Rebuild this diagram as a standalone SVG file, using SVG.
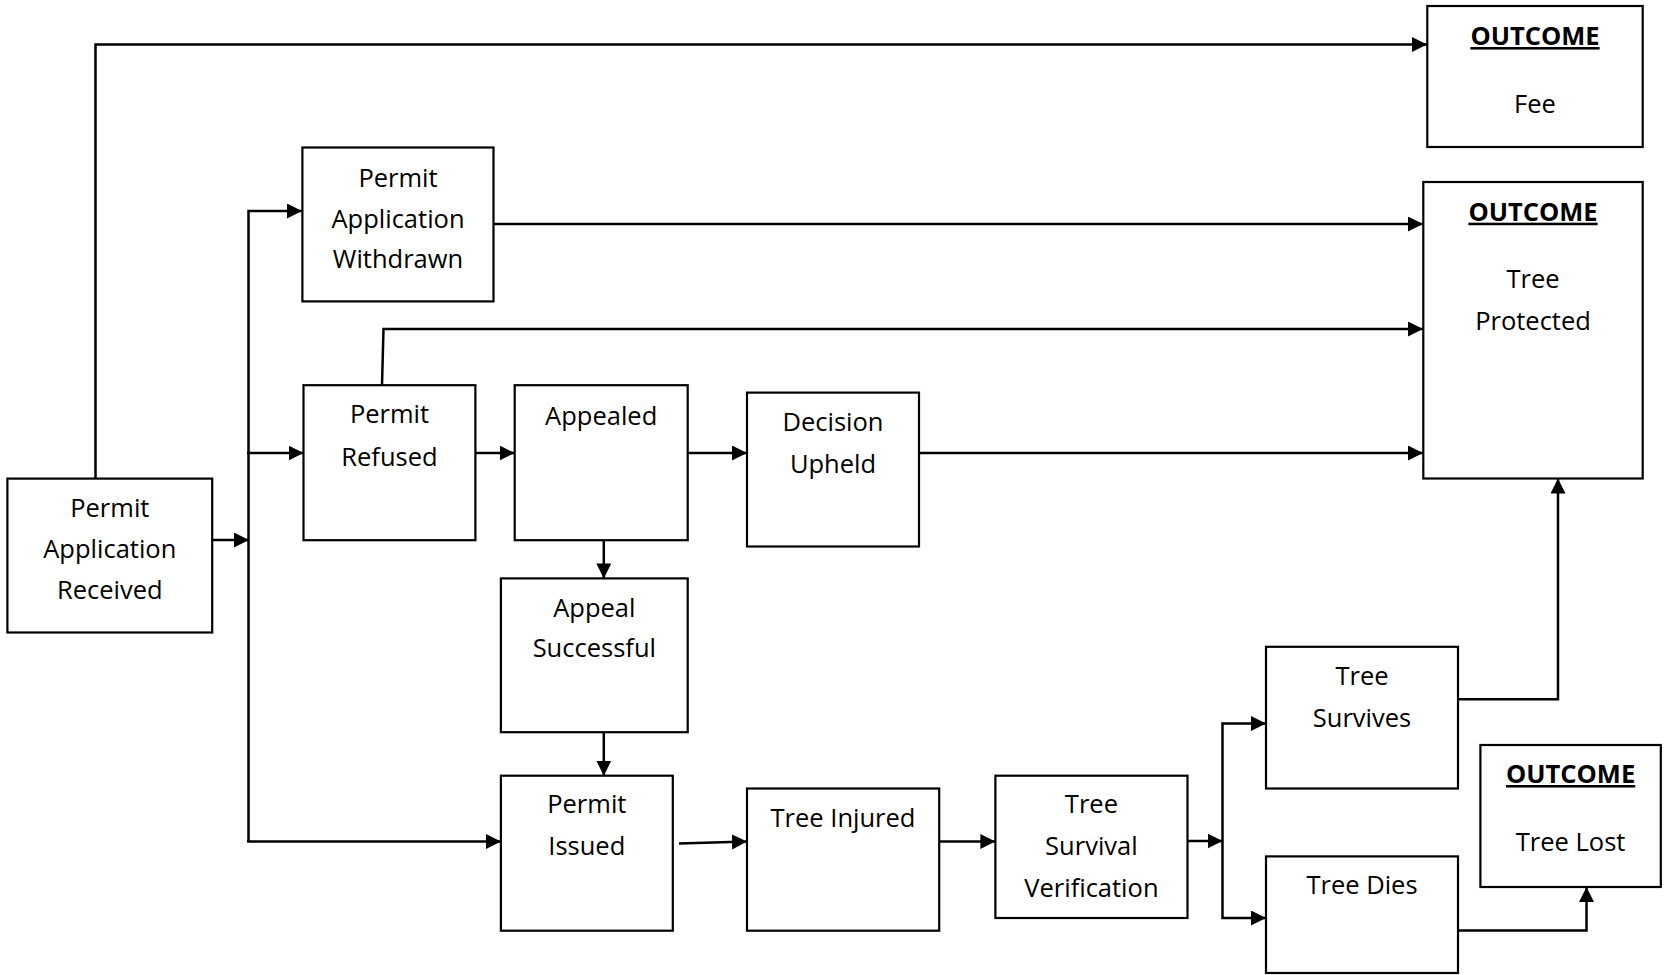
<svg xmlns="http://www.w3.org/2000/svg" width="1664" height="975" viewBox="0 0 1664 975">
<style>
.box{fill:#fff;stroke:#000;stroke-width:2.2}
.t{font-family:"Open Sans","Liberation Sans",sans-serif;font-size:25.5px;fill:#000;text-anchor:middle}
.h{font-weight:bold;text-decoration:underline}
.c{fill:none;stroke:#000;stroke-width:2.5}
.a{marker-end:url(#arr)}
</style>
<defs>
<marker id="arr" markerUnits="userSpaceOnUse" markerWidth="16" markerHeight="16" refX="15" refY="7.5" orient="auto">
<path d="M0,0 L15,7.5 L0,15 z" fill="#000"/>
</marker>
</defs>
<rect width="1664" height="975" fill="#fff"/>
<g id="connectors">
<path class="c a" d="M95.5,478.6 V44.6 H1427"/>
<path class="c a" d="M212,540 H249"/>
<path class="c a" d="M248.5,841.5 V211 H302"/>
<path class="c a" d="M247,453 H303.5"/>
<path class="c a" d="M247,841.5 H501"/>
<path class="c a" d="M493.5,224 H1423"/>
<path class="c a" d="M382,385 L383.5,329 H1423"/>
<path class="c a" d="M475.4,453 H514.7"/>
<path class="c a" d="M687.7,453 H747"/>
<path class="c a" d="M919,453 H1423"/>
<path class="c a" d="M603.8,540 V578.4"/>
<path class="c a" d="M603.8,732 V775.7"/>
<path class="c a" d="M679,843.5 L747,841.5"/>
<path class="c a" d="M939,841.5 H995.4"/>
<path class="c a" d="M1187.5,841 H1222.5"/>
<path class="c a" d="M1222.5,841 V723.5 H1266"/>
<path class="c a" d="M1222.5,841 V918 H1266"/>
<path class="c a" d="M1458,699.3 H1558 V478.6"/>
<path class="c a" d="M1458,930.5 H1586.5 V887"/>
</g>
<g id="n-fee">
<rect class="box" x="1427.3" y="6" width="215.4" height="141"/>
<text class="t h" x="1535" y="45">OUTCOME</text>
<text class="t" x="1535" y="113">Fee</text>
</g>
<g id="n-protected">
<rect class="box" x="1423.3" y="182" width="219.4" height="296.5"/>
<text class="t h" x="1533" y="220.7">OUTCOME</text>
<text class="t" x="1533" y="288">Tree</text>
<text class="t" x="1533" y="330">Protected</text>
</g>
<g id="n-lost">
<rect class="box" x="1480.4" y="745" width="180.4" height="142"/>
<text class="t h" x="1570.6" y="783">OUTCOME</text>
<text class="t" x="1570.6" y="850.7">Tree Lost</text>
</g>
<g id="n-received">
<rect class="box" x="7.4" y="478.6" width="204.8" height="153.9"/>
<text class="t" x="109.8" y="516.7">Permit</text>
<text class="t" x="109.8" y="557.7">Application</text>
<text class="t" x="109.8" y="599.3">Received</text>
</g>
<g id="n-withdrawn">
<rect class="box" x="302.4" y="147.5" width="191.1" height="153.9"/>
<text class="t" x="398" y="186.7">Permit</text>
<text class="t" x="398" y="227.7">Application</text>
<text class="t" x="398" y="268.3">Withdrawn</text>
</g>
<g id="n-refused">
<rect class="box" x="303.5" y="385.2" width="171.9" height="155"/>
<text class="t" x="389.5" y="423.3">Permit</text>
<text class="t" x="389.5" y="466">Refused</text>
</g>
<g id="n-appealed">
<rect class="box" x="514.7" y="385.2" width="173" height="155"/>
<text class="t" x="601.2" y="425">Appealed</text>
</g>
<g id="n-decision">
<rect class="box" x="747" y="392.6" width="172" height="153.9"/>
<text class="t" x="833" y="430.7">Decision</text>
<text class="t" x="833" y="472.7">Upheld</text>
</g>
<g id="n-successful">
<rect class="box" x="500.9" y="578.4" width="186.8" height="153.8"/>
<text class="t" x="594.3" y="616.7">Appeal</text>
<text class="t" x="594.3" y="657.3">Successful</text>
</g>
<g id="n-issued">
<rect class="box" x="500.9" y="775.7" width="171.9" height="155"/>
<text class="t" x="586.8" y="813.3">Permit</text>
<text class="t" x="586.8" y="855">Issued</text>
</g>
<g id="n-injured">
<rect class="box" x="747" y="788.5" width="192.2" height="142.2"/>
<text class="t" x="843" y="827.3">Tree Injured</text>
</g>
<g id="n-verification">
<rect class="box" x="995.4" y="775.7" width="192.1" height="142.3"/>
<text class="t" x="1091.4" y="813.3">Tree</text>
<text class="t" x="1091.4" y="855">Survival</text>
<text class="t" x="1091.4" y="896.7">Verification</text>
</g>
<g id="n-survives">
<rect class="box" x="1266" y="646.8" width="192" height="141.7"/>
<text class="t" x="1362" y="685">Tree</text>
<text class="t" x="1362" y="726.7">Survives</text>
</g>
<g id="n-dies">
<rect class="box" x="1266" y="856.4" width="192" height="116.6"/>
<text class="t" x="1362" y="894">Tree Dies</text>
</g>
</svg>
